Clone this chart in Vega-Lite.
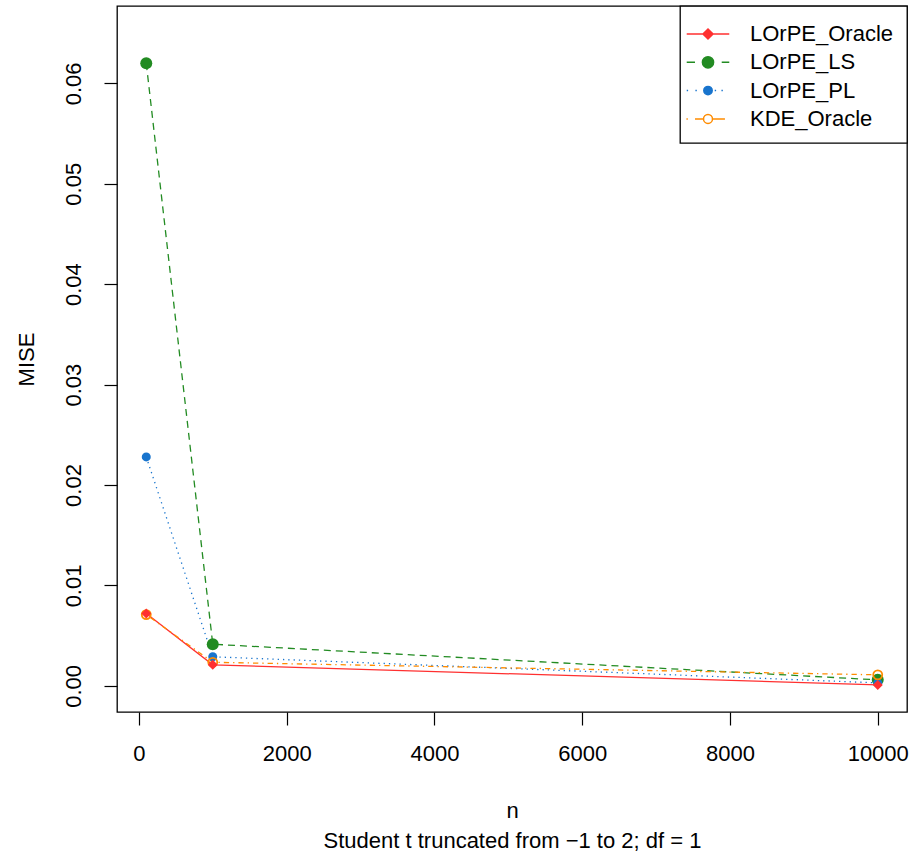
{
  "$schema": "https://vega.github.io/schema/vega-lite/v6.json",
  "autosize": {"type": "none"},
  "width": 790,
  "height": 706,
  "padding": {"left": 117, "top": 6, "right": 7, "bottom": 144},
  "background": "white",
  "config": {
    "view": {"stroke": "black", "strokeWidth": 1.3},
    "font": "Liberation Sans",
    "axis": {
      "domain": false,
      "grid": false,
      "ticks": true,
      "tickSize": 13,
      "tickColor": "black",
      "tickWidth": 1.2,
      "labelFont": "Liberation Sans",
      "labelFontSize": 22,
      "labelColor": "black",
      "titleFont": "Liberation Sans",
      "titleFontSize": 22,
      "titleFontWeight": "normal",
      "titleColor": "black"
    },
    "legend": {
      "orient": "top-right",
      "offset": 0,
      "padding": 13,
      "rowPadding": 2.3,
      "symbolSize": 784,
      "symbolStrokeWidth": 1.5,
      "symbolOpacity": 1,
      "labelFont": "Liberation Sans",
      "labelFontSize": 22,
      "labelColor": "black",
      "labelOffset": 27,
      "labelLimit": 400,
      "strokeColor": "black",
      "fillColor": "white",
      "strokeWidth": 1.3
    }
  },
  "data": {
    "values": [
      {"series": "LOrPE_Oracle", "n": 100, "mise": 0.0072},
      {"series": "LOrPE_Oracle", "n": 1000, "mise": 0.0021},
      {"series": "LOrPE_Oracle", "n": 10000, "mise": 0.0001},
      {"series": "LOrPE_LS", "n": 100, "mise": 0.0620},
      {"series": "LOrPE_LS", "n": 1000, "mise": 0.00415},
      {"series": "LOrPE_LS", "n": 10000, "mise": 0.0006},
      {"series": "LOrPE_PL", "n": 100, "mise": 0.0228},
      {"series": "LOrPE_PL", "n": 1000, "mise": 0.0029},
      {"series": "LOrPE_PL", "n": 10000, "mise": 0.0003},
      {"series": "KDE_Oracle", "n": 100, "mise": 0.0071},
      {"series": "KDE_Oracle", "n": 1000, "mise": 0.00235},
      {"series": "KDE_Oracle", "n": 10000, "mise": 0.0011}
    ]
  },
  "encoding": {
    "x": {
      "field": "n", "type": "quantitative",
      "scale": {"domain": [-296, 10396], "nice": false, "zero": false},
      "axis": {
        "values": [0, 2000, 4000, 6000, 8000, 10000],
        "format": "d",
        "labelPadding": 18,
        "labelBaseline": "top",
        "title": ["n", "Student t truncated from \u22121 to 2; df = 1"],
        "titleLineHeight": 30,
        "titleBaseline": "alphabetic",
        "titleY": 105,
        "titleX": 395,
        "titleAlign": "center"
      }
    },
    "y": {
      "field": "mise", "type": "quantitative",
      "scale": {"domain": [-0.0026, 0.0677], "nice": false, "zero": false},
      "axis": {
        "values": [0, 0.01, 0.02, 0.03, 0.04, 0.05, 0.06],
        "format": ".2f",
        "labelAngle": 270,
        "labelAlign": "center",
        "labelBaseline": "bottom",
        "labelPadding": 19,
        "title": "MISE",
        "titleAngle": 270,
        "titleAlign": "center",
        "titleBaseline": "alphabetic",
        "titleX": -84,
        "titleY": 353
      }
    }
  },
  "layer": [
    {
      "transform": [{"filter": "datum.series == 'LOrPE_Oracle'"}],
      "mark": {"type": "line", "strokeWidth": 1.3, "stroke": "#FF3030"},
      "encoding": {}
    },
    {
      "transform": [{"filter": "datum.series == 'LOrPE_LS'"}],
      "mark": {"type": "line", "strokeWidth": 1.3, "stroke": "#228B22", "strokeDash": [7, 5]},
      "encoding": {}
    },
    {
      "transform": [{"filter": "datum.series == 'LOrPE_PL'"}],
      "mark": {"type": "line", "strokeWidth": 1.3, "stroke": "#1874CD", "strokeDash": [1.3, 4]},
      "encoding": {}
    },
    {
      "transform": [{"filter": "datum.series == 'KDE_Oracle'"}],
      "mark": {"type": "line", "strokeWidth": 1.3, "stroke": "#FF8C00", "strokeDash": [1.3, 4, 5.3, 4]},
      "encoding": {}
    },
    {
      "transform": [{"filter": "datum.series == 'LOrPE_LS'"}],
      "mark": {"type": "point", "shape": "circle", "filled": true, "size": 144, "fill": "#228B22", "strokeWidth": 0, "opacity": 1}
    },
    {
      "transform": [{"filter": "datum.series == 'LOrPE_PL'"}],
      "mark": {"type": "point", "shape": "circle", "filled": true, "size": 81, "fill": "#1874CD", "strokeWidth": 0, "opacity": 1}
    },
    {
      "transform": [{"filter": "datum.series == 'KDE_Oracle'"}],
      "mark": {"type": "point", "shape": "circle", "filled": false, "size": 81, "stroke": "#FF8C00", "strokeWidth": 1.8, "opacity": 1}
    },
    {
      "transform": [{"filter": "datum.series == 'LOrPE_Oracle'"}],
      "mark": {"type": "point", "shape": "diamond", "filled": true, "size": 100, "fill": "#FF3030", "strokeWidth": 0, "opacity": 1}
    },
    {
      "mark": {"type": "point", "filled": true, "size": 784, "strokeWidth": 1.5, "opacity": 0},
      "encoding": {
        "shape": {
          "field": "series", "type": "nominal",
          "scale": {
            "domain": ["LOrPE_Oracle", "LOrPE_LS", "LOrPE_PL", "KDE_Oracle"],
            "range": [
              "M-1.52,0H1.52M0,-0.36L0.36,0L0,0.36L-0.36,0Z",
              "M-1.52,0H-0.93M0.98,0H1.52M-0.4,0A0.4,0.4,0,1,0,0.4,0A0.4,0.4,0,1,0,-0.4,0Z",
              "M-1.52,0H-1.42M-0.9,0H-0.8M0.48,0H0.58M0.96,0H1.06M-0.3,0A0.3,0.3,0,1,0,0.3,0A0.3,0.3,0,1,0,-0.3,0Z",
              "M-1.54,0H-1.44M-0.93,0H-0.34M0.36,0H1.21M-0.32,0A0.32,0.32,0,1,0,0.32,0A0.32,0.32,0,1,0,-0.32,0Z"
            ]
          },
          "legend": {"title": null, "symbolOpacity": 1, "encode": {"symbols": {"update": {"opacity": {"value": 1}}}}}
        },
        "fill": {
          "field": "series", "type": "nominal",
          "scale": {"domain": ["LOrPE_Oracle", "LOrPE_LS", "LOrPE_PL", "KDE_Oracle"], "range": ["#FF3030", "#228B22", "#1874CD", "white"]},
          "legend": {"title": null, "symbolOpacity": 1, "encode": {"symbols": {"update": {"opacity": {"value": 1}}}}}
        },
        "stroke": {
          "field": "series", "type": "nominal",
          "scale": {"domain": ["LOrPE_Oracle", "LOrPE_LS", "LOrPE_PL", "KDE_Oracle"], "range": ["#FF3030", "#228B22", "#1874CD", "#FF8C00"]},
          "legend": {"title": null, "symbolOpacity": 1, "encode": {"symbols": {"update": {"opacity": {"value": 1}}}}}
        }
      }
    }
  ]
}
